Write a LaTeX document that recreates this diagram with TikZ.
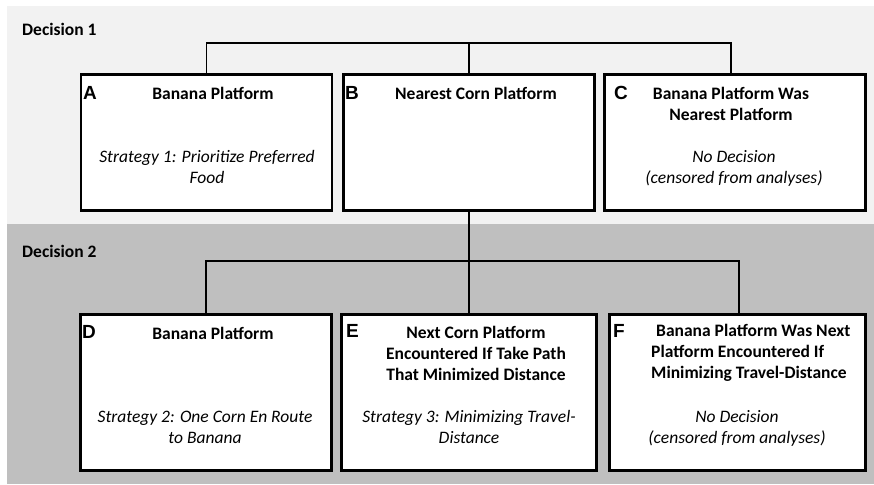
\documentclass[tikz,border=0pt]{standalone}
\usepackage{fontspec}
\setmainfont{Carlito}
\newfontfamily\letterfont{Liberation Sans}
\definecolor{lightbg}{HTML}{F2F2F2}
\definecolor{darkbg}{HTML}{BFBFBF}
\tikzset{
  box/.style={draw=black, line width=2.6pt, fill=white, rectangle, inner sep=0pt},
  conn/.style={draw=black, line width=1.7pt},
  title/.style={font=\fontsize{17.5}{21}\selectfont\bfseries, align=center, inner sep=0pt},
  body/.style={font=\fontsize{17.5}{21}\selectfont\itshape, align=center, inner sep=0pt},
  letter/.style={font=\letterfont\bfseries\fontsize{19}{22}\selectfont, anchor=west, inner sep=0pt},
  decision/.style={font=\fontsize{17.5}{21}\selectfont\bfseries, anchor=west, inner sep=0pt}
}
\begin{document}
\begin{tikzpicture}[x=1pt, y=-1pt]
\useasboundingbox (0,0) rectangle (874,484);
\fill[lightbg] (7,6) rectangle (874,224);
\fill[darkbg] (7,224) rectangle (874,484);

\node[decision] (d1) at (22,29) {Decision 1};
\node[decision] (d2) at (22,251) {Decision 2};

% row 1 boxes
\node[box, minimum width=251pt, minimum height=136pt] (A) at (206.5,142.5) {};
\node[box, minimum width=251pt, minimum height=136pt] (B) at (469,142.5) {};
\node[box, minimum width=261pt, minimum height=136pt] (C) at (735,142.5) {};
% row 2 boxes
\node[box, minimum width=251pt, minimum height=156pt] (D) at (206,392.5) {};
\node[box, minimum width=255pt, minimum height=156pt] (E) at (469,392.5) {};
\node[box, minimum width=256pt, minimum height=156pt] (F) at (737.5,392.5) {};

% connectors
\coordinate (j1) at (469,43);
\coordinate (c1) at (731,43);
\coordinate (j2) at (469,261);
\coordinate (f1) at (739,261);
\draw[conn] (A.north) -- (A.north |- j1) -- (c1) -- (c1 |- C.north);
\draw[conn] (B.north) -- (j1);
\draw[conn] (B.south) -- (E.north);
\draw[conn] (D.north) -- (D.north |- j2) -- (f1) -- (f1 |- F.north);

% letters
\node[letter] (la) at (83,93) {A};
\node[letter] (lb) at (345,93) {B};
\node[letter] (lc) at (614,93) {C};
\node[letter] (ld) at (82,332) {D};
\node[letter] (le) at (346,331) {E};
\node[letter] (lf) at (613,331) {F};

% texts row 1
\node[title] (ta) at (213,93) {Banana Platform};
\node[body] (sa) at (207,167) {Strategy 1: Prioritize Preferred\\Food};
\node[title] (tb) at (476,93) {Nearest Corn Platform};
\node[title] (tc) at (731,104) {Banana Platform Was\\Nearest Platform};
\node[body] (sc) at (734,168) {No Decision\\(censored from analyses)};

% texts row 2
\node[title] (td) at (213,333) {Banana Platform};
\node[body] (sd) at (205,427) {Strategy 2: One Corn En Route\\to Banana};
\node[title] (te) at (476,353) {Next Corn Platform\\Encountered If Take Path\\That Minimized Distance};
\node[body] (se) at (469,427) {Strategy 3: Minimizing Travel-\\Distance};
\node[title, align=left, anchor=west] (tf) at (651,353) {\hspace{5pt}Banana Platform Was Next\\Platform Encountered If\\Minimizing Travel-Distance};
\node[body] (sf) at (737,428) {No Decision\\(censored from analyses)};
\end{tikzpicture}
\end{document}
